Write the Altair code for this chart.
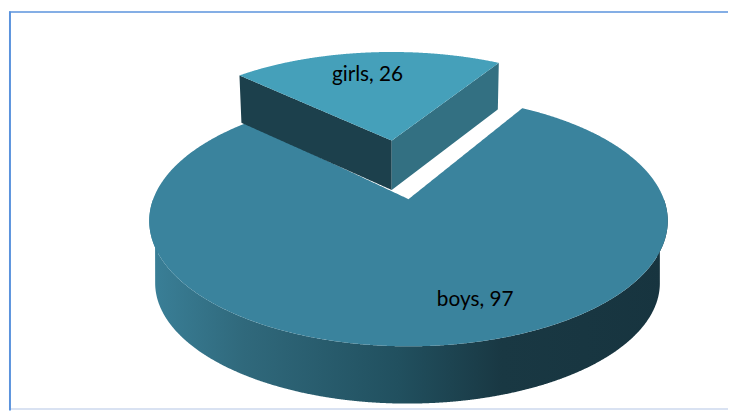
import math
import altair as alt
import pandas as pd

# Chart values
categories = ["boys", "girls"]
values = [97, 26]

TOTAL = sum(values)
BOYS_SPAN = values[0] / TOTAL * 360.0
GIRLS_SPAN = values[1] / TOTAL * 360.0

# 3-D projection of the pie: a tilted disc seen in perspective
C = 0.173          # how far the projected disc centre sits behind the ellipse centre
SEAM = 30.8        # clockwise angle from the back of the pie to the boys/girls seam


def project(phi, cx, cy, rx, ry):
    a = math.radians(phi)
    u, v = math.sin(a), math.cos(a)
    d = 1 + C * v
    return (cx + rx * u * math.sqrt(1 - C * C) / d, cy - ry * (v + C) / d)


def sector(a0, span, cx, cy, rx, ry, n=240):
    pts = [project(a0 + span * i / n, cx, cy, rx, ry) for i in range(n + 1)]
    apex = (cx, cy - ry * C)
    return pts + [apex]


def as_area(poly, step=1.0):
    """Turn an x-monotone polygon into x / y / y2 rows for an area mark."""
    xs = [p[0] for p in poly]
    lo, hi = min(xs), max(xs)
    grid = {lo + i * step for i in range(int((hi - lo) / step) + 1)} | set(xs) | {hi}
    rows = []
    edges = list(zip(poly, poly[1:] + poly[:1]))
    for x in sorted(grid):
        ys = []
        for (x0, y0), (x1, y1) in edges:
            if min(x0, x1) <= x <= max(x0, x1):
                if x0 == x1:
                    ys += [y0, y1]
                else:
                    ys.append(y0 + (y1 - y0) * (x - x0) / (x1 - x0))
        if ys:
            rows.append({"x": x, "y": min(ys), "y2": max(ys)})
    return pd.DataFrame(rows)


# Ellipses: top of boys, bottom of boys, top of the exploded girls slice
B_TOP = (413.5, 220.0, 262.5, 127.0)
B_BOT = (412.5, 283.0, 255.5, 122.0)
G_TOP = (396.5, 157.5, 247.0, 108.5)
DEPTH_APEX, DEPTH_L, DEPTH_R = 50, 48, 47

boys_top = sector(SEAM, BOYS_SPAN, *B_TOP)
girls_top = sector(SEAM - GIRLS_SPAN, GIRLS_SPAN, *G_TOP)

# Front wall of the boys slice
front_top = [project(90 + 180 * i / 240, *B_TOP) for i in range(241)]
front_bot = [project(90 + 180 * i / 240, *B_BOT) for i in range(241)]
boys_wall = front_top + front_bot[::-1]

# Cut faces of the girls slice
g_right = project(SEAM, *G_TOP)
g_left = project(SEAM - GIRLS_SPAN, *G_TOP)
g_apex = (G_TOP[0], G_TOP[1] - G_TOP[3] * C)
wall_left = [g_left, g_apex, (g_apex[0], g_apex[1] + DEPTH_APEX), (g_left[0] + 2, g_left[1] + DEPTH_L)]
wall_right = [g_apex, g_right, (g_right[0] - 1, g_right[1] + DEPTH_R), (g_apex[0], g_apex[1] + DEPTH_APEX)]

W, H = 729, 404
x_scale = alt.Scale(domain=[8, 737], nice=False, zero=False)
y_scale = alt.Scale(domain=[8, 412], nice=False, zero=False, reverse=True)


def area(poly, fill):
    return (
        alt.Chart(as_area(poly))
        .mark_area(color=fill, interpolate="linear", stroke=None)
        .encode(
            x=alt.X("x:Q", scale=x_scale, axis=None),
            y=alt.Y("y:Q", scale=y_scale, axis=None),
            y2="y2:Q",
        )
    )


wall_fill = alt.Gradient(
    gradient="linear", x1=0, x2=1, y1=0, y2=0,
    stops=[
        alt.GradientStop(offset=0.0, color="#3a8098"),
        alt.GradientStop(offset=0.18, color="#30697c"),
        alt.GradientStop(offset=0.48, color="#21505f"),
        alt.GradientStop(offset=0.68, color="#193843"),
        alt.GradientStop(offset=1.0, color="#17343f"),
    ],
)

labels = pd.DataFrame({
    "label": [f"{c}, {v}" for c, v in zip(categories, values)],
    "x": [481, 372],
    "y": [300, 72],
})
text = (
    alt.Chart(labels)
    .mark_text(font="Lato", fontSize=21, color="#000000", align="center", baseline="middle")
    .encode(
        x=alt.X("x:Q", scale=x_scale, axis=None),
        y=alt.Y("y:Q", scale=y_scale, axis=None),
        text="label:N",
    )
)

frame_h = pd.DataFrame({"x": [9, 9], "x2": [737, 737], "y": [8.5, 410.5], "c": ["top", "bottom"]})
frame_v = pd.DataFrame({"x": [10], "y": [8], "y2": [412]})
top_rule = (
    alt.Chart(frame_h.iloc[[0]])
    .mark_rule(color="#5b93dd", strokeWidth=1.5)
    .encode(x=alt.X("x:Q", scale=x_scale, axis=None), x2="x2:Q", y=alt.Y("y:Q", scale=y_scale, axis=None))
)
bottom_rule = (
    alt.Chart(frame_h.iloc[[1]])
    .mark_rule(color="#ccd9ee", strokeWidth=1.5)
    .encode(x=alt.X("x:Q", scale=x_scale, axis=None), x2="x2:Q", y=alt.Y("y:Q", scale=y_scale, axis=None))
)
left_rule = (
    alt.Chart(frame_v)
    .mark_rule(color="#5b93dd", strokeWidth=2)
    .encode(x=alt.X("x:Q", scale=x_scale, axis=None), y=alt.Y("y:Q", scale=y_scale, axis=None), y2="y2:Q")
)

chart = (
    alt.layer(
        area(boys_wall, wall_fill),
        area(boys_top, "#3a839d"),
        area(wall_left, "#1c404c"),
        area(wall_right, "#337082"),
        area(girls_top, "#45a0ba"),
        text,
        bottom_rule,
        top_rule,
        left_rule,
    )
    .properties(width=W, height=H, padding=0, background="white")
    .configure_view(stroke=None)
)

chart.save("out.html", embed_options={"renderer": "svg", "actions": False})
